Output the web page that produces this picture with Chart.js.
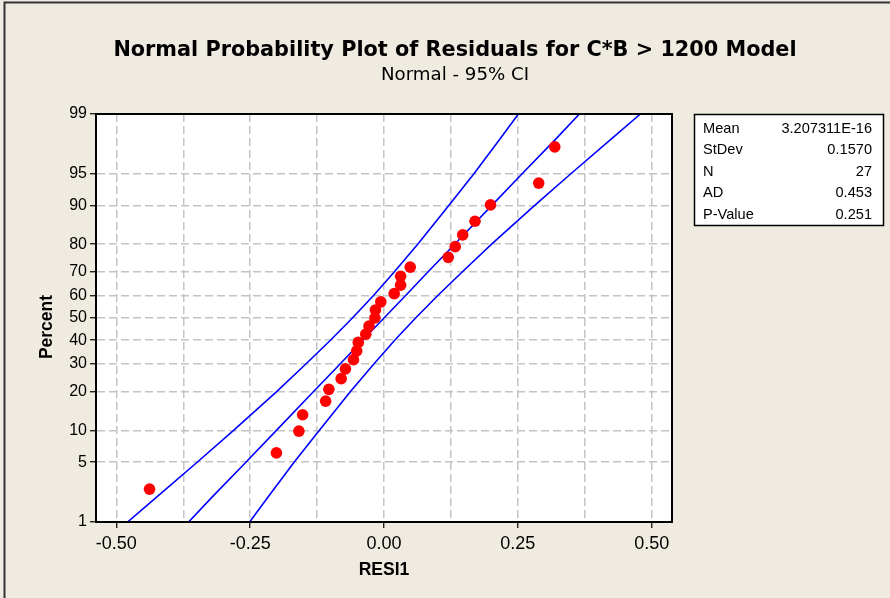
<!DOCTYPE html>
<html>
<head>
<meta charset="utf-8">
<script src="https://cdn.jsdelivr.net/npm/chart.js@4.4.1/dist/chart.umd.min.js"></script>
<style>
  html, body { margin: 0; padding: 0; background: #EFEBE1; }
  #wrap { width: 890px; height: 598px; }
</style>
</head>
<body>
<div id="wrap"><canvas id="probPlot" width="890" height="598"></canvas></div>
<script>
// residuals (RESI1), sorted
const resid = [-0.438, -0.201, -0.159, -0.152, -0.109, -0.103, -0.080, -0.072, -0.057, -0.051,
               -0.048, -0.034, -0.028, -0.017, -0.016, -0.006, 0.019, 0.031, 0.031, 0.049,
               0.120, 0.133, 0.147, 0.170, 0.199, 0.289, 0.319];
// percent each residual is plotted at
const residPct = [2.55, 6.2, 9.85, 13.5, 17.15, 20.8, 24.45, 28.1, 31.75, 35.4,
                  39.05, 42.7, 46.35, 50.0, 53.65, 57.3, 60.95, 64.6, 68.25, 71.9,
                  75.55, 79.2, 82.85, 86.5, 90.15, 93.8, 97.45];

// fitted line and 95% CI band, read at these percents
const ciPct   = [1, 2, 5, 10, 20, 30, 40, 50, 60, 70, 80, 90, 95, 98, 99];
const fitX    = [-0.365, -0.323, -0.258, -0.201, -0.132, -0.082, -0.040, 0.000, 0.040, 0.082, 0.132, 0.201, 0.258, 0.323, 0.365];
const ciLower = [-0.479, -0.427, -0.349, -0.281, -0.201, -0.146, -0.100, -0.059, -0.020, 0.019, 0.063, 0.121, 0.168, 0.218, 0.251];
const ciUpper = [-0.251, -0.218, -0.168, -0.121, -0.063, -0.019, 0.020, 0.059, 0.100, 0.146, 0.201, 0.281, 0.349, 0.427, 0.479];

// axis ticks
const percentTicks = [1, 5, 10, 20, 30, 40, 50, 60, 70, 80, 90, 95, 99];
const xTicks = [-0.5, -0.375, -0.25, -0.125, 0, 0.125, 0.25, 0.375, 0.5];

// summary box
const statNames  = ['Mean', 'StDev', 'N', 'AD', 'P-Value'];
const statValues = ['3.207311E-16', '0.1570', '27', '0.453', '0.251'];

const FONT = "'Liberation Sans', Arial, sans-serif";
const TFONT = "'DejaVu Sans', Verdana, sans-serif";

// inverse normal cdf (Acklam) - used for the probability axis
function normInv(p) {
  const a = [-3.969683028665376e+01, 2.209460984245205e+02, -2.759285104469687e+02, 1.383577518672690e+02, -3.066479806614716e+01, 2.506628277459239e+00];
  const b = [-5.447609879822406e+01, 1.615858368580409e+02, -1.556989798598866e+02, 6.680131188771972e+01, -1.328068155288572e+01];
  const c = [-7.784894002430293e-03, -3.223964580411365e-01, -2.400758277161838e+00, -2.549732539343734e+00, 4.374664141464968e+00, 2.938163982698783e+00];
  const d = [7.784695709041462e-03, 3.224671290700398e-01, 2.445134137142996e+00, 3.754408661907416e+00];
  const pl = 0.02425;
  let q, r;
  if (p < pl) {
    q = Math.sqrt(-2 * Math.log(p));
    return (((((c[0]*q+c[1])*q+c[2])*q+c[3])*q+c[4])*q+c[5]) / ((((d[0]*q+d[1])*q+d[2])*q+d[3])*q+1);
  }
  if (p > 1 - pl) {
    q = Math.sqrt(-2 * Math.log(1 - p));
    return -(((((c[0]*q+c[1])*q+c[2])*q+c[3])*q+c[4])*q+c[5]) / ((((d[0]*q+d[1])*q+d[2])*q+d[3])*q+1);
  }
  q = p - 0.5; r = q * q;
  return (((((a[0]*r+a[1])*r+a[2])*r+a[3])*r+a[4])*r+a[5])*q / (((((b[0]*r+b[1])*r+b[2])*r+b[3])*r+b[4])*r+1);
}

const toPts = (xs, ps) => xs.map((x, i) => ({ x: x, y: normInv(ps[i] / 100) }));

// draw text sized so it fills a given width
function fitText(ctx, txt, weight, family, baseSize, width, x, y) {
  ctx.font = weight + ' ' + baseSize + 'px ' + family;
  const size = baseSize * width / ctx.measureText(txt).width;
  ctx.font = weight + ' ' + size.toFixed(1) + 'px ' + family;
  ctx.fillText(txt, x, y);
}

// background, frame, titles and the stats box
const decor = {
  id: 'decor',
  beforeDraw(chart) {
    const { ctx, chartArea: a } = chart;
    ctx.save();
    ctx.fillStyle = '#EFEBE1';
    ctx.fillRect(0, 0, chart.width, chart.height);
    ctx.fillStyle = '#FFFFFF';
    ctx.fillRect(a.left, a.top, a.right - a.left, a.bottom - a.top);
    ctx.restore();
  },
  afterDraw(chart) {
    const { ctx, chartArea: a } = chart;
    ctx.save();
    // plot frame
    ctx.strokeStyle = '#000';
    ctx.lineWidth = 2;
    ctx.strokeRect(a.left, a.top, a.right - a.left, a.bottom - a.top);
    // outer graph frame (left + top visible)
    ctx.strokeStyle = '#333';
    ctx.beginPath();
    ctx.moveTo(4.5, 600); ctx.lineTo(4.5, 2.5); ctx.lineTo(892, 2.5);
    ctx.stroke();
    // titles
    ctx.fillStyle = '#000';
    ctx.textAlign = 'center';
    ctx.textBaseline = 'middle';
    fitText(ctx, 'Normal Probability Plot of Residuals for C*B > 1200 Model', 'bold', TFONT, 20, 684, 455, 51);
    fitText(ctx, 'Normal - 95% CI', 'normal', TFONT, 16, 148, 455, 75);
    // y axis title
    ctx.save();
    ctx.translate(47, 327);
    ctx.rotate(-Math.PI / 2);
    ctx.font = 'bold 17.5px ' + FONT;
    ctx.fillText('Percent', 0, 0);
    ctx.restore();
    // stats box
    ctx.fillStyle = '#FFF';
    ctx.fillRect(694.5, 114.5, 189, 111);
    ctx.strokeStyle = '#000';
    ctx.lineWidth = 1.5;
    ctx.strokeRect(694.5, 114.5, 189, 111);
    ctx.fillStyle = '#000';
    ctx.font = '14.6px ' + FONT;
    statNames.forEach((n, i) => {
      const y = 128.5 + i * 21.6;
      ctx.textAlign = 'left';
      ctx.fillText(n, 703, y);
      ctx.textAlign = 'right';
      ctx.fillText(statValues[i], 872, y);
    });
    ctx.restore();
  }
};

const lineStyle = { showLine: true, borderColor: '#0000FF', borderWidth: 1.6, pointRadius: 0, fill: false, order: 2 };

new Chart(document.getElementById('probPlot').getContext('2d'), {
  type: 'scatter',
  data: {
    datasets: [
      { label: 'RESI1', data: toPts(resid, residPct), backgroundColor: '#FF0000', borderColor: '#FF0000',
        pointRadius: 5.8, pointBorderWidth: 0, order: 1 },
      Object.assign({ label: 'Fit', data: toPts(fitX, ciPct) }, lineStyle),
      Object.assign({ label: 'Lower', data: toPts(ciLower, ciPct) }, lineStyle),
      Object.assign({ label: 'Upper', data: toPts(ciUpper, ciPct) }, lineStyle)
    ]
  },
  options: {
    responsive: false,
    animation: false,
    layout: { padding: { left: 66, top: 114, right: 218, bottom: 10 } },
    plugins: { legend: { display: false }, tooltip: { enabled: false } },
    scales: {
      x: {
        type: 'linear',
        min: -0.538, max: 0.538,
        afterFit: s => { s.height = 66; },
        afterBuildTicks: s => { s.ticks = xTicks.map(v => ({ value: v })); },
        grid: {
          color: '#C4C4C4', lineWidth: 1.5, tickLength: 6, tickWidth: 1.2,
          tickBorderDash: [],
          tickColor: c => (Math.abs((c.tick.value * 4) % 1) < 1e-9 ? '#000' : 'rgba(0,0,0,0)')
        },
        border: { display: true, color: '#000', width: 2, dash: [8, 4] },
        ticks: {
          autoSkip: false, maxRotation: 0, padding: 5, color: '#000',
          font: { family: FONT, size: 18 },
          callback: v => (Math.abs((v * 4) % 1) < 1e-9 ? v.toFixed(2) : '')
        },
        title: { display: true, text: 'RESI1', color: '#000', font: { family: FONT, size: 17.5, weight: 'bold' },
                 padding: { top: 0, bottom: 7 } }
      },
      y: {
        type: 'linear',
        min: normInv(0.01), max: normInv(0.99),
        afterFit: s => { s.width = 30; },
        afterBuildTicks: s => { s.ticks = percentTicks.map(p => ({ value: normInv(p / 100) })); },
        grid: { color: '#C4C4C4', lineWidth: 1.5, tickLength: 6, tickWidth: 1.2, tickColor: '#000', tickBorderDash: [] },
        border: { display: true, color: '#000', width: 2, dash: [8, 4] },
        ticks: {
          autoSkip: false, padding: 3, color: '#000',
          font: { family: FONT, size: 16 },
          callback: (v, i) => String(percentTicks[i])
        }
      }
    }
  },
  plugins: [decor]
});
</script>
</body>
</html>
